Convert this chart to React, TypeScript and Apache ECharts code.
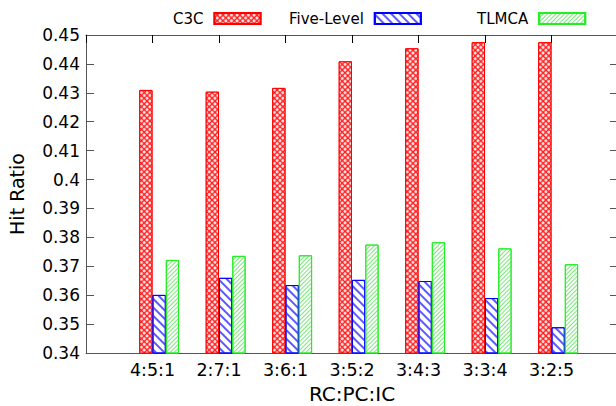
import React, { useEffect, useRef } from "react";
import * as echarts from "echarts";

const categories = ["4:5:1", "2:7:1", "3:6:1", "3:5:2", "3:4:3", "3:3:4", "3:2:5"];
const c3c = [0.431, 0.4304, 0.4317, 0.4409, 0.4454, 0.4475, 0.4475];
const fiveLevel = [0.3601, 0.366, 0.3635, 0.3653, 0.3649, 0.359, 0.3489];
const tlmca = [0.3722, 0.3736, 0.3738, 0.3775, 0.3783, 0.3762, 0.3707];
const seriesNames = ["C3C", "Five-Level", "TLMCA"];
const yMin = 0.34;
const yMax = 0.45;
const yStep = 0.01;

const FONT = "DejaVu Sans";
const BAR_W = 13.3;
const AXIS_COLOR = "#555";

export default function App() {
  const ref = useRef<HTMLDivElement>(null);
  useEffect(() => {
    if (!ref.current) return;
    document.body.style.margin = "0";
    const chart = echarts.init(ref.current, undefined, { renderer: "svg" });
    const toPairs = (arr: number[]) => arr.map((v, i) => [i, v]);
    const legendCommon = {
      orient: "horizontal",
      top: 11,
      padding: 0,
      align: "right",
      icon: "rect",
      itemWidth: 46,
      itemHeight: 11,
      textStyle: { fontFamily: FONT, fontSize: 15, color: "#000", padding: [0, 6, 0, 0] },
    };
    const yCommon = {
      type: "value",
      min: yMin,
      max: yMax,
      interval: yStep,
      splitLine: { show: false },
      axisLine: { show: true, onZero: false, lineStyle: { color: AXIS_COLOR, width: 1 } },
      axisTick: { show: true, inside: true, length: 8, lineStyle: { color: AXIS_COLOR } },
    };
    chart.setOption({
      animation: false,
      textStyle: { fontFamily: FONT },
      legend: [
        { ...legendCommon, left: 173, data: [seriesNames[0]] },
        { ...legendCommon, left: 289, data: [seriesNames[1]] },
        { ...legendCommon, left: 477, data: [seriesNames[2]] },
      ],
      grid: {
        left: 86,
        top: 35,
        width: 532,
        height: 318,
        containLabel: false,
        outerBoundsMode: "none",
      },
      xAxis: [
        {
          type: "value",
          position: "bottom",
          min: -1,
          max: 7,
          interval: 1,
          splitLine: { show: false },
          axisLine: { show: true, onZero: false, lineStyle: { color: AXIS_COLOR, width: 1 } },
          axisTick: { show: false },
          axisLabel: {
            margin: 8,
            fontFamily: FONT,
            fontSize: 17.5,
            color: "#000",
            formatter: (v: number) => categories[Math.round(v)] ?? "",
          },
          name: "RC:PC:IC",
          nameLocation: "middle",
          nameGap: 30,
          nameTextStyle: { fontFamily: FONT, fontSize: 20, color: "#000", verticalAlign: "top" },
        },
        {
          type: "value",
          position: "top",
          min: -1,
          max: 7,
          interval: 1,
          splitLine: { show: false },
          axisLine: { show: true, onZero: false, lineStyle: { color: AXIS_COLOR, width: 1 } },
          axisTick: { show: true, inside: true, length: 8, lineStyle: { color: "#000" } },
          axisLabel: { show: false },
        },
      ],
      yAxis: [
        {
          ...yCommon,
          position: "left",
          axisLabel: {
            margin: 6,
            fontFamily: FONT,
            fontSize: 17,
            color: "#000",
            formatter: (v: number) => String(+v.toFixed(2)),
          },
          name: "Hit Ratio",
          nameLocation: "middle",
          nameGap: 60,
          nameTextStyle: { fontFamily: FONT, fontSize: 19, color: "#000" },
        },
        {
          ...yCommon,
          position: "right",
          axisLabel: { show: false },
        },
      ],
      series: [
        {
          name: "_pad",
          type: "bar",
          data: [],
          barWidth: BAR_W,
          barGap: "0%",
        },
        {
          name: seriesNames[0],
          type: "bar",
          data: toPairs(c3c),
          barWidth: BAR_W,
          barGap: "0%",
          itemStyle: {
            color: "#ff2020",
            borderColor: "#ff0000",
            borderWidth: 1,
            decal: {
              symbol: "circle",
              color: "rgba(255,255,255,0.92)",
              symbolSize: 1,
              dashArrayX: [3, 1],
              dashArrayY: [3, 1],
              rotation: Math.PI / 4,
            },
          },
        },
        {
          name: seriesNames[1],
          type: "bar",
          data: toPairs(fiveLevel),
          barWidth: BAR_W,
          barGap: "0%",
          itemStyle: {
            color: "#ffffff",
            borderColor: "#0000ff",
            borderWidth: 1,
            decal: {
              symbol: "rect",
              color: "#5a5aff",
              symbolSize: 1,
              dashArrayX: [1, 0],
              dashArrayY: [1.6, 4],
              rotation: Math.PI / 4,
            },
          },
        },
        {
          name: seriesNames[2],
          type: "bar",
          data: toPairs(tlmca),
          barWidth: BAR_W,
          barGap: "0%",
          itemStyle: {
            color: "#ffffff",
            borderColor: "#22ee22",
            borderWidth: 1,
            decal: {
              symbol: "rect",
              color: "#7ae87a",
              symbolSize: 1,
              dashArrayX: [1, 0],
              dashArrayY: [1, 1.6],
              rotation: -Math.PI / 4,
            },
          },
        },
      ],
    });
    return () => chart.dispose();
  }, []);
  return <div ref={ref} style={{ width: 616, height: 406 }} />;
}
